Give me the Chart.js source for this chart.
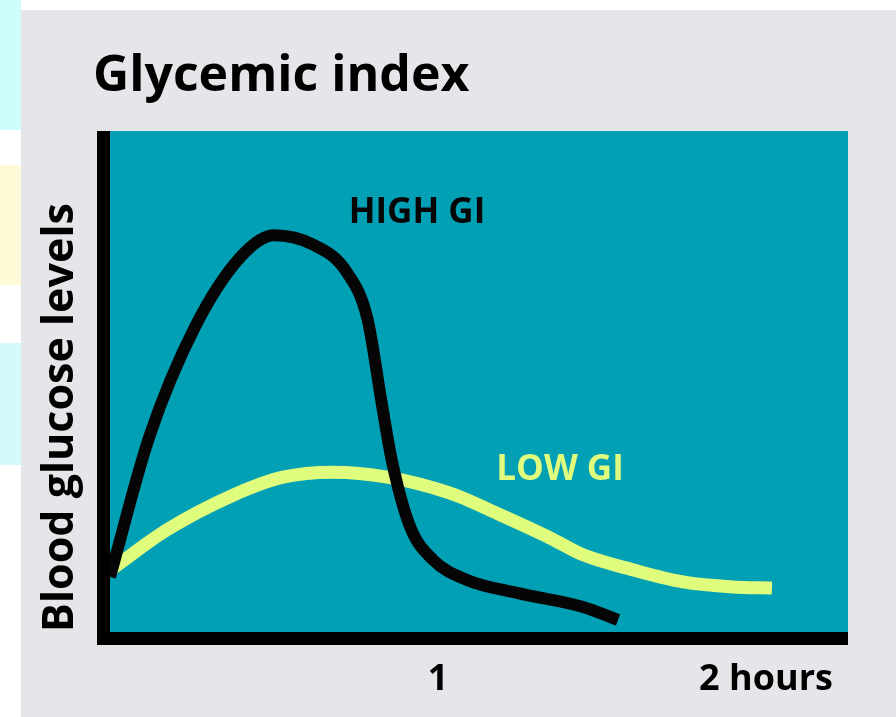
<!DOCTYPE html>
<html>
<head>
    <title>Glycemic index</title>
    <script src="https://cdn.jsdelivr.net/npm/chart.js"></script>
    <style>
        body {
            margin: 0;
            width: 896px;
            height: 717px;
            overflow: hidden;
            background: #ffffff;
            font-family: "Open Sans", Arial, sans-serif;
            position: relative;
        }

        .strip {
            position: absolute;
            left: 0;
            width: 21px;
        }

        .panel {
            position: absolute;
            left: 21px;
            top: 10px;
            width: 875px;
            height: 707px;
            background: #e4e6e9;
        }

        h1 {
            position: absolute;
            left: 93px;
            top: 38px;
            margin: 0;
            font-size: 50px;
            font-weight: 700;
            line-height: normal;
            color: #000;
        }

        .chart-container {
            position: absolute;
            left: 0;
            top: 0;
            width: 896px;
            height: 717px;
        }
    </style>
</head>
<body>
    <div class="strip" style="top:0;height:130px;background:#cffcfd;"></div>
    <div class="strip" style="top:165px;height:120px;background:#fffbd8;"></div>
    <div class="strip" style="top:343px;height:122px;background:#d3fbfd;"></div>
    <div class="panel"></div>
    <h1>Glycemic index</h1>

    <div class="chart-container">
        <canvas id="gi-chart" width="896" height="717"></canvas>
    </div>

    <script>
        // hours after eating / blood glucose (relative units, 0-100)
        const highGiHours = [0, 0.12, 0.26, 0.40, 0.50, 0.62, 0.72, 0.785, 0.83, 0.86, 0.915, 0.985, 1.088, 1.241, 1.442, 1.549];
        const highGiLevel = [11, 39, 61, 75, 79.2, 77.3, 72, 62.5, 45, 34, 21, 14.4, 10.4, 7.8, 5.0, 2.4];

        const lowGiHours = [0, 0.174, 0.375, 0.527, 0.680, 0.845, 1.037, 1.189, 1.341, 1.442, 1.595, 1.747, 1.899, 2.018];
        const lowGiLevel = [12.3, 20.4, 27.3, 30.9, 31.9, 30.9, 27.7, 23.4, 18.8, 15.4, 12.4, 10.0, 9.0, 8.8];

        const xTickValues = [1, 2];
        const xTickLabels = ['1', '2 hours'];

        const curveNames = ['HIGH GI', 'LOW GI'];
        const curveLabelHours = [0.936, 1.372];
        const curveLabelLevel = [83.6, 32.3];

        const teal = '#01a0b4';
        const black = '#050505';
        const lime = '#e0fc7c';
        const labelColors = [black, lime];

        function toPoints(xs, ys) {
            return xs.map((x, i) => ({ x: x, y: ys[i] }));
        }

        const plotBackground = {
            id: 'plotBackground',
            beforeDraw(chart) {
                const a = chart.chartArea;
                const ctx = chart.ctx;
                ctx.save();
                ctx.fillStyle = teal;
                ctx.fillRect(a.left, a.top, a.right - a.left, a.bottom - a.top);
                ctx.restore();
            }
        };

        // thick black axis bars + curve names
        const axisBars = {
            id: 'axisBars',
            afterDatasetsDraw(chart) {
                const a = chart.chartArea;
                const ctx = chart.ctx;
                const w = 13;
                ctx.save();
                ctx.fillStyle = '#000';
                ctx.fillRect(a.left - w, a.top, w, a.bottom - a.top + w);
                ctx.fillRect(a.left - w, a.bottom, a.right - a.left + w, w);

                ctx.font = '700 35px "Open Sans"';
                ctx.textAlign = 'center';
                ctx.textBaseline = 'middle';
                curveNames.forEach((name, i) => {
                    ctx.fillStyle = labelColors[i];
                    ctx.fillText(name,
                        chart.scales.x.getPixelForValue(curveLabelHours[i]),
                        chart.scales.y.getPixelForValue(curveLabelLevel[i]));
                });
                ctx.restore();
            }
        };

        const ctx = document.getElementById('gi-chart').getContext('2d');
        const chart = new Chart(ctx, {
            type: 'line',
            data: {
                datasets: [
                    {
                        label: 'High GI',
                        data: toPoints(highGiHours, highGiLevel),
                        borderColor: black,
                        borderWidth: 12,
                        borderCapStyle: 'butt',
                        borderJoinStyle: 'round',
                        cubicInterpolationMode: 'monotone',
                        pointRadius: 0,
                        fill: false
                    },
                    {
                        label: 'Low GI',
                        data: toPoints(lowGiHours, lowGiLevel),
                        borderColor: lime,
                        borderWidth: 13,
                        borderCapStyle: 'butt',
                        borderJoinStyle: 'round',
                        cubicInterpolationMode: 'monotone',
                        pointRadius: 0,
                        fill: false
                    }
                ]
            },
            options: {
                responsive: false,
                animation: false,
                layout: {
                    padding: { left: 0, right: 48, top: 131, bottom: 0 }
                },
                plugins: {
                    legend: { display: false },
                    tooltip: { enabled: false }
                },
                scales: {
                    x: {
                        type: 'linear',
                        min: 0,
                        max: 2.25,
                        grid: { display: false, drawTicks: false },
                        border: { display: false },
                        afterBuildTicks: s => {
                            s.ticks = xTickValues.map(v => ({ value: v }));
                        },
                        afterFit: s => { s.height = 85; },
                        ticks: {
                            padding: 26,
                            color: '#000',
                            font: { family: 'Open Sans', size: 36, weight: '700' },
                            callback: v => xTickLabels[xTickValues.indexOf(v)]
                        }
                    },
                    y: {
                        min: 0,
                        max: 100,
                        grid: { display: false, drawTicks: false },
                        border: { display: false },
                        ticks: { display: false },
                        afterFit: s => { s.width = 110; },
                        title: {
                            display: true,
                            text: 'Blood glucose levels',
                            align: 'start',
                            color: '#000',
                            padding: { top: 35, bottom: 0 },
                            font: { family: 'Open Sans', size: 43, weight: '700' }
                        }
                    }
                }
            },
            plugins: [plotBackground, axisBars]
        });
    </script>
</body>
</html>
